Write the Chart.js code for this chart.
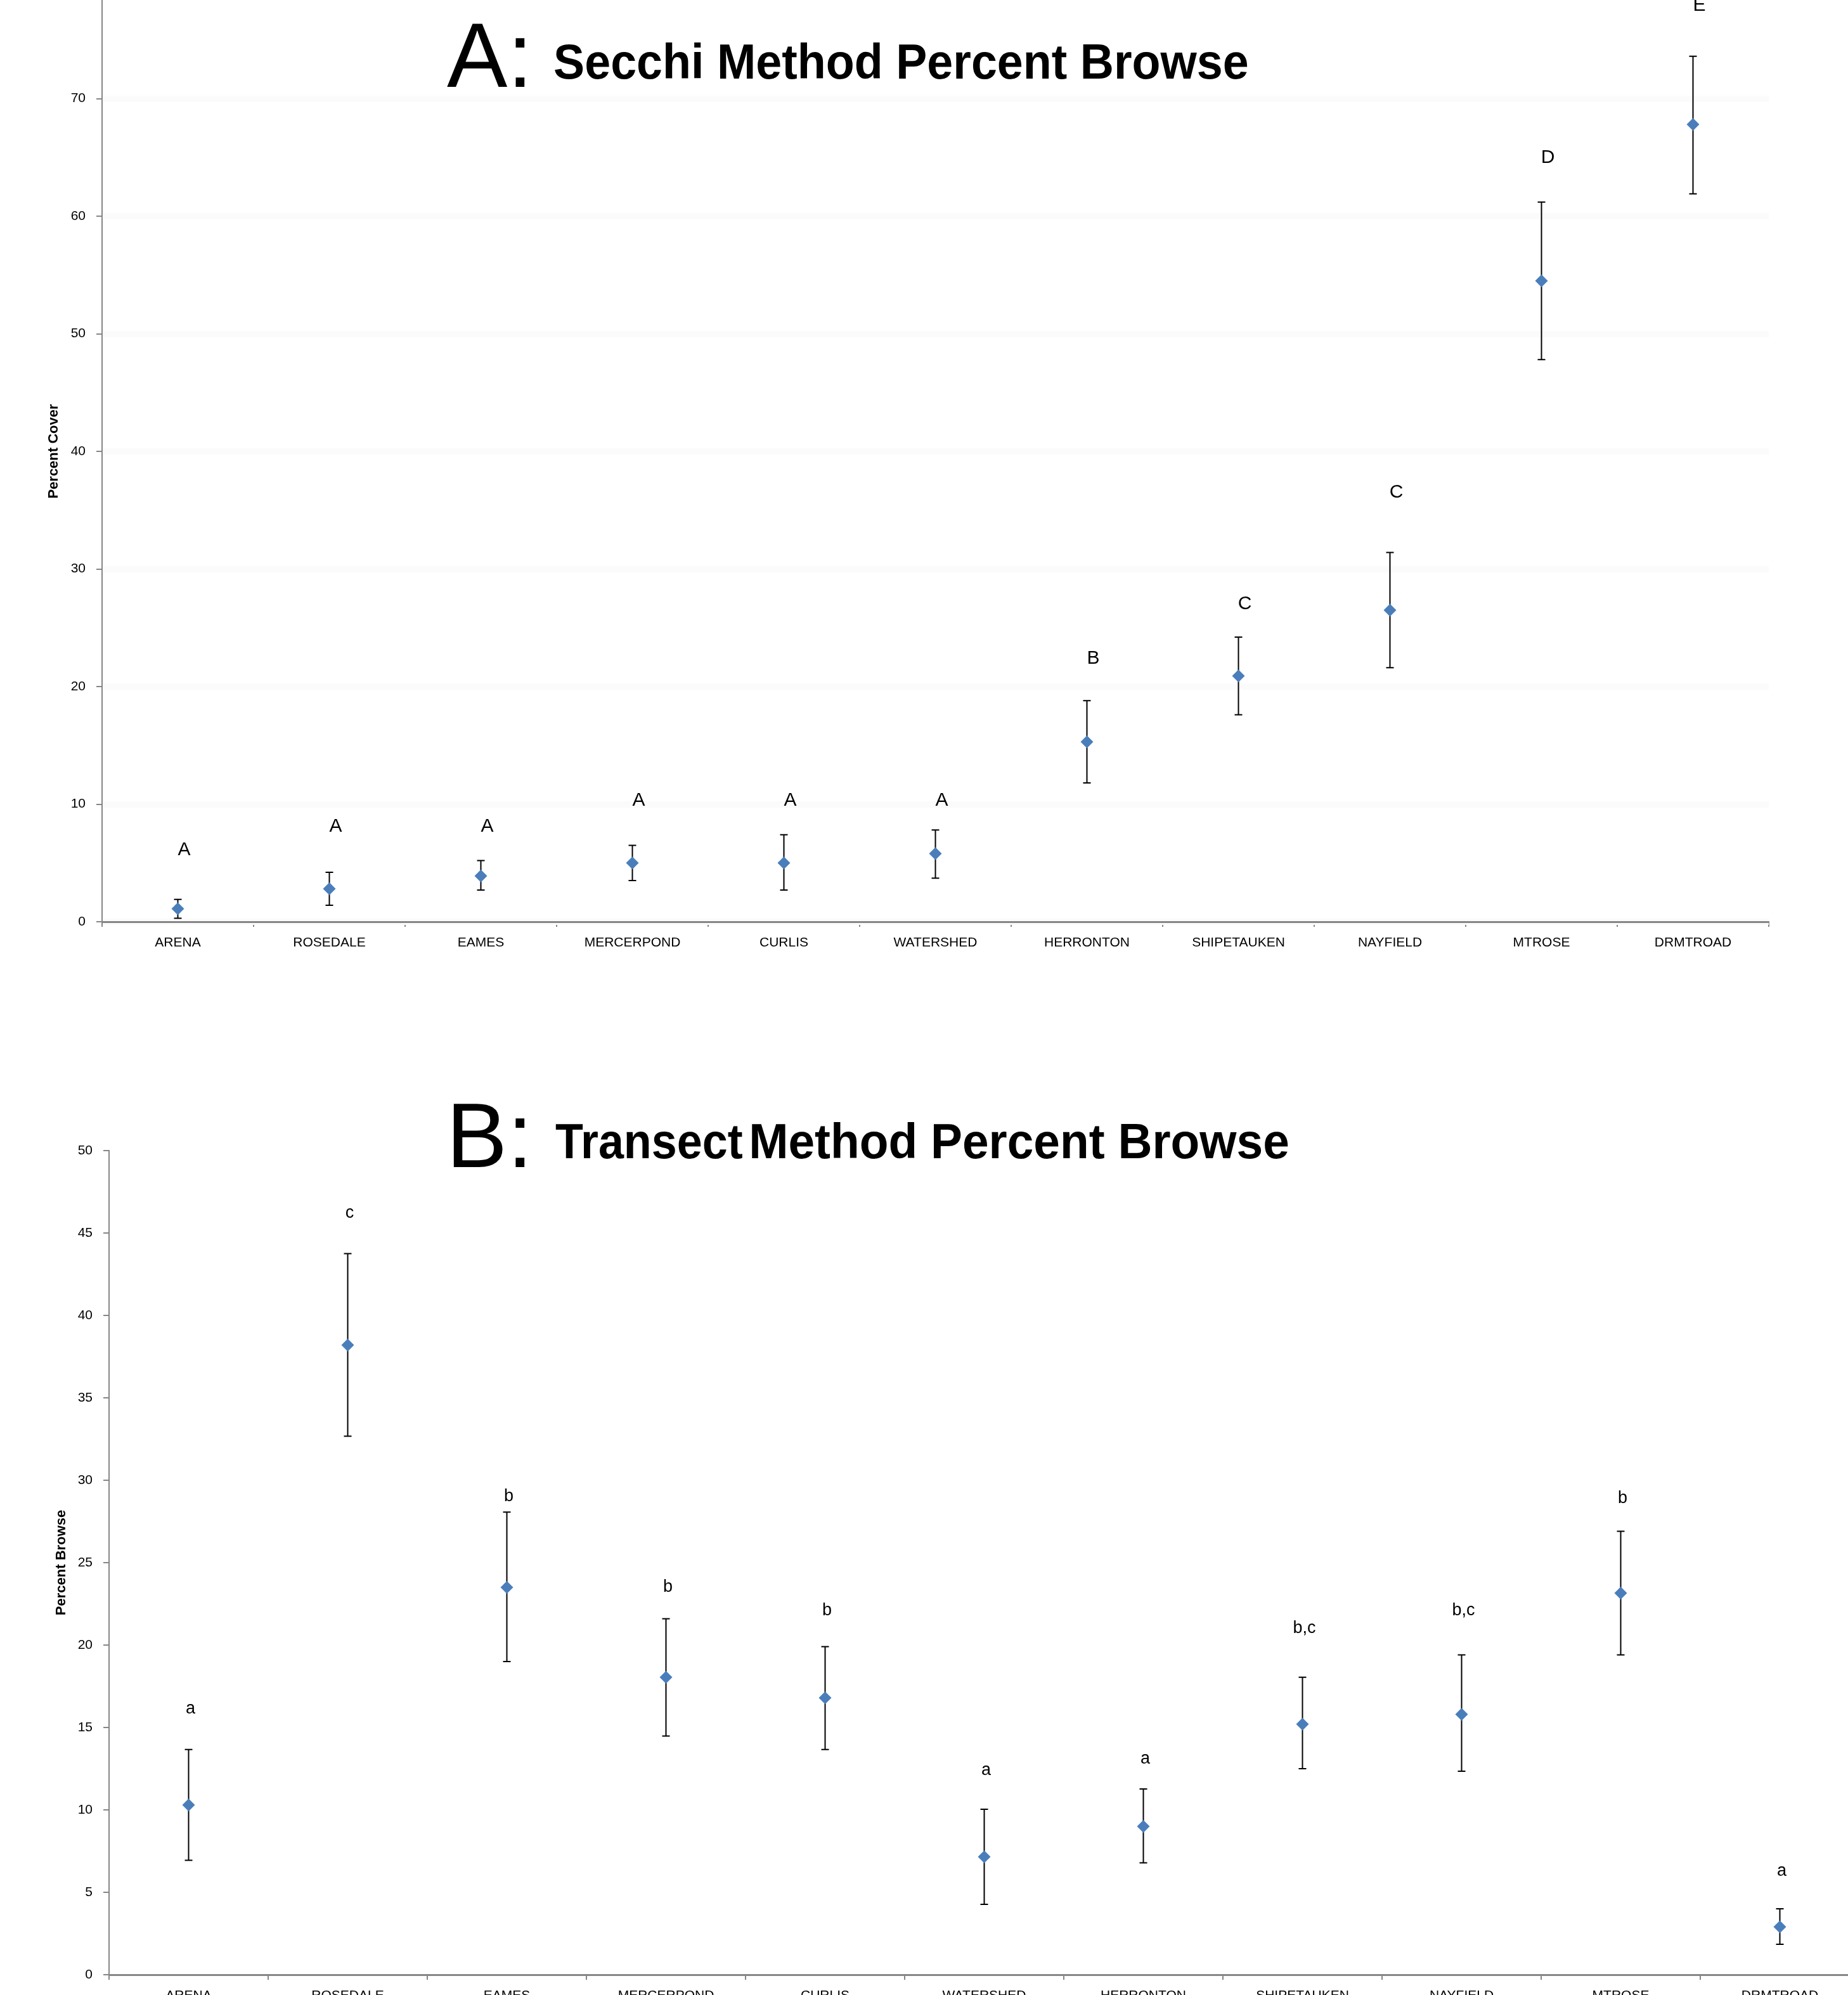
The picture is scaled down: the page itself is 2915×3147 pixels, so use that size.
<!DOCTYPE html>
<html>
<head>
<meta charset="utf-8">
<script src="https://cdn.jsdelivr.net/npm/chart.js@4.4.1/dist/chart.umd.min.js"></script>
<style>
  html, body { margin: 0; padding: 0; background: #fff; overflow: hidden; }
  #wrap { position: relative; width: 2915px; height: 3147px; overflow: hidden; }
  #secchiChart { position: absolute; left: 0; top: -40px; }
  #transectChart { position: absolute; left: 0; top: 1700px; }
</style>
</head>
<body>
<div id="wrap">
  <canvas id="secchiChart" width="2915" height="1574"></canvas>
  <canvas id="transectChart" width="2960" height="1495"></canvas>
</div>
<script>
// sites, same order in both panels
const sites = ["ARENA", "ROSEDALE", "EAMES", "MERCERPOND", "CURLIS", "WATERSHED",
               "HERRONTON", "SHIPETAUKEN", "NAYFIELD", "MTROSE", "DRMTROAD"];

// A: Secchi method percent cover (mean, error bar ends, group letters)
const secchiMean   = [1.1, 2.8, 3.9, 5.0, 5.0, 5.8, 15.3, 20.9, 26.5, 54.5, 67.8];
const secchiUpper  = [1.9, 4.2, 5.2, 6.5, 7.4, 7.8, 18.8, 24.2, 31.4, 61.2, 73.6];
const secchiLower  = [0.3, 1.4, 2.7, 3.5, 2.7, 3.7, 11.8, 17.6, 21.6, 47.8, 61.9];
const secchiGroups = ["A", "A", "A", "A", "A", "A", "B", "C", "C", "D", "E"];
const secchiGroupY = [6.1, 8.1, 8.1, 10.3, 10.3, 10.3, 22.4, 27.0, 36.5, 65.0, 77.9];

// B: Transect method percent browse
const transectMean   = [10.3, 38.2, 23.5, 18.05, 16.8, 7.15, 9.0, 15.2, 15.8, 23.15, 2.9];
const transectUpper  = [13.66, 43.75, 28.07, 21.6, 19.9, 10.04, 11.27, 18.05, 19.4, 26.9, 4.0];
const transectLower  = [6.94, 32.67, 19.0, 14.48, 13.66, 4.27, 6.79, 12.5, 12.35, 19.4, 1.85];
const transectGroups = ["a", "c", "b", "b", "b", "a", "a", "b,c", "b,c", "b", "a"];
const transectGroupY = [16.15, 46.2, 29.0, 23.5, 22.1, 12.4, 13.1, 21.0, 22.1, 28.9, 6.3];

const FONT = "'Liberation Sans', Arial, sans-serif";
const AXIS_GREY = "#868686";
const MARKER = "#4a7ebb";

Chart.defaults.font.family = FONT;
Chart.defaults.color = "#000";

// error bars, drawn under the diamonds
function errorBars(upper, lower) {
  return {
    id: "errorBars",
    beforeDatasetsDraw(chart) {
      const { ctx, scales: { x, y } } = chart;
      ctx.save();
      ctx.strokeStyle = "#000";
      ctx.lineWidth = 2;
      upper.forEach((hi, i) => {
        const px = x.getPixelForValue(i);
        const yTop = y.getPixelForValue(hi);
        const yBot = y.getPixelForValue(lower[i]);
        ctx.beginPath();
        ctx.moveTo(px, yTop); ctx.lineTo(px, yBot);
        ctx.moveTo(px - 6, yTop); ctx.lineTo(px + 6, yTop);
        ctx.moveTo(px - 6, yBot); ctx.lineTo(px + 6, yBot);
        ctx.stroke();
      });
      ctx.restore();
    }
  };
}

// significance letters above each site
function groupLetters(groups, groupY, font, dx) {
  return {
    id: "groupLetters",
    afterDatasetsDraw(chart) {
      const { ctx, scales: { x, y } } = chart;
      ctx.save();
      ctx.font = font;
      ctx.fillStyle = "#000";
      ctx.textAlign = "center";
      ctx.textBaseline = "middle";
      groups.forEach((g, i) => {
        ctx.fillText(g, x.getPixelForValue(i) + dx, y.getPixelForValue(groupY[i]));
      });
      ctx.restore();
    }
  };
}

// panel title pieces, each squeezed to the width it has in the figure
function fitText(ctx, text, left, baseline, width, font) {
  ctx.font = font;
  const m = ctx.measureText(text);
  const w = m.actualBoundingBoxLeft + m.actualBoundingBoxRight;
  const sx = width / w;
  ctx.save();
  ctx.translate(left + m.actualBoundingBoxLeft * sx, baseline);
  ctx.scale(sx, 1);
  ctx.textAlign = "left";
  ctx.textBaseline = "alphabetic";
  ctx.fillStyle = "#000";
  ctx.fillText(text, 0, 0);
  ctx.restore();
}

function panelTitle(pieces) {
  return {
    id: "panelTitle",
    afterDraw(chart) {
      pieces.forEach(p => fitText(chart.ctx, p.text, p.left, p.baseline, p.width, p.font));
    }
  };
}

function buildChart(id, o) {
  const canvas = document.getElementById(id);
  return new Chart(canvas.getContext("2d"), {
    type: "line",
    data: {
      labels: sites,
      datasets: [{
        data: o.mean,
        showLine: false,
        pointStyle: "rectRot",
        pointRadius: 10,
        pointHoverRadius: 10,
        pointBackgroundColor: MARKER,
        pointBorderWidth: 0
      }]
    },
    options: {
      responsive: false,
      animation: false,
      layout: { padding: o.padding },
      plugins: {
        legend: { display: false },
        tooltip: { enabled: false }
      },
      scales: {
        x: {
          type: "category",
          offset: true,
          grid: { offset: true, drawOnChartArea: false, color: AXIS_GREY, lineWidth: 2, tickLength: 8 },
          border: { color: AXIS_GREY, width: 3 },
          ticks: { font: { size: 21 }, color: "#000", padding: 13, maxRotation: 0, autoSkip: false },
          afterFit(s) {
            s.height = 80;
            s.paddingLeft = s.paddingRight = s.paddingTop = s.paddingBottom = 0;
          }
        },
        y: {
          min: 0,
          max: o.yMax,
          ticks: { stepSize: o.yStep, font: { size: 21 }, color: "#000", padding: 17 },
          grid: {
            drawOnChartArea: o.gridOn,
            color: "#fbfbfb",
            lineWidth: 10,
            tickColor: AXIS_GREY,
            tickLength: 9,
            tickWidth: 2
          },
          border: { color: AXIS_GREY, width: 2 },
          title: {
            display: true,
            text: o.yTitle,
            font: { size: 22, weight: "bold" },
            padding: { top: o.titlePad, bottom: 0 }
          },
          afterFit(s) {
            s.width = o.yWidth;
            s.paddingLeft = s.paddingRight = s.paddingTop = s.paddingBottom = 0;
          }
        }
      }
    },
    plugins: [
      errorBars(o.upper, o.lower),
      groupLetters(o.groups, o.groupY, o.letterFont, o.letterDx),
      panelTitle(o.titles)
    ]
  });
}

buildChart("secchiChart", {
  mean: secchiMean, upper: secchiUpper, lower: secchiLower,
  groups: secchiGroups, groupY: secchiGroupY,
  letterFont: "30px " + FONT, letterDx: 10,
  yMax: 80, yStep: 10, gridOn: true,
  yTitle: "Percent Cover", titlePad: 72, yWidth: 161,
  padding: { left: 0, right: 125, top: 0, bottom: 0 },
  titles: [
    { text: "A:", left: 705, baseline: 177, width: 123, font: "145px " + FONT },
    { text: "Secchi Method Percent Browse", left: 875, baseline: 164, width: 1093, font: "bold 77px " + FONT }
  ]
});

buildChart("transectChart", {
  mean: transectMean, upper: transectUpper, lower: transectLower,
  groups: transectGroups, groupY: transectGroupY,
  letterFont: "27px " + FONT, letterDx: 3,
  yMax: 50, yStep: 5, gridOn: false,
  yTitle: "Percent Browse", titlePad: 84, yWidth: 172,
  padding: { left: 0, right: 27, top: 115, bottom: 0 },
  titles: [
    { text: "B:", left: 715, baseline: 141, width: 113, font: "145px " + FONT },
    { text: "Transect", left: 876, baseline: 127, width: 295, font: "bold 77px " + FONT },
    { text: "Method Percent Browse", left: 1186, baseline: 127, width: 846, font: "bold 77px " + FONT }
  ]
});
</script>
</body>
</html>
